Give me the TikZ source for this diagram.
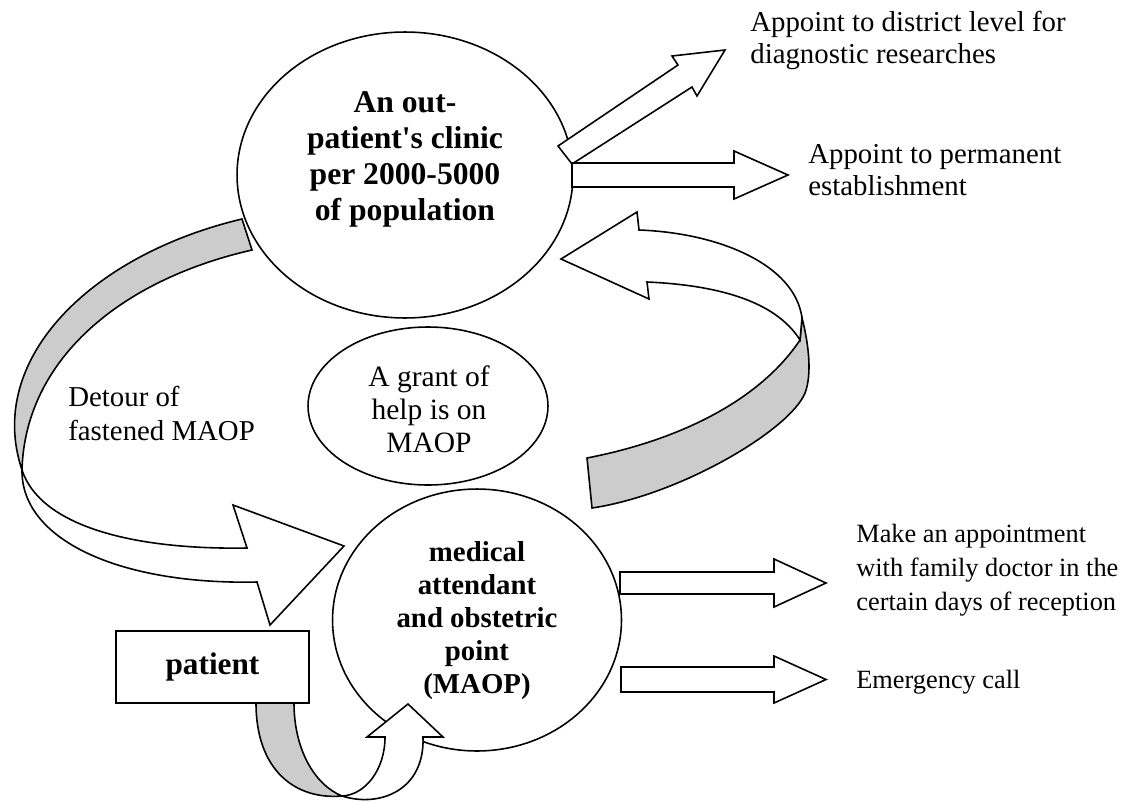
\documentclass[tikz,border=0pt]{standalone}
\usepackage{fontspec}
\setmainfont{Liberation Serif}
\usetikzlibrary{shapes.geometric}
\begin{document}
\begin{tikzpicture}[x=0.02cm,y=-0.02cm,
  outline/.style={draw=black,line width=0.9pt,line join=miter},
  band/.style={outline,fill=black!20},
  face/.style={outline,fill=white},
  oval/.style={ellipse,draw=black,line width=0.9pt,fill=white,inner sep=0pt},
  small/.style={inner sep=0pt,font=\fontsize{15}{19.1}\selectfont},
]
\useasboundingbox (0,0) rectangle (1138,801);

% main shapes
\node[oval,minimum width=6.72cm,minimum height=5.72cm] (clinic) at (405,175) {};
\node[oval,minimum width=4.80cm,minimum height=3.16cm] (grant) at (428,406) {};
\node[oval,minimum width=5.78cm,minimum height=5.24cm] (maop) at (477,620) {};
\node[draw=black,line width=0.9pt,fill=white,minimum width=3.86cm,minimum height=1.44cm,
      inner sep=0pt,font=\bfseries\fontsize{17.8}{20}\selectfont] (patient) at (212.5,667) {patient};

% texts inside the ovals (anchored at the baseline of the last line)
\node[inner sep=0pt,font=\bfseries\fontsize{18}{20.4}\selectfont,anchor=base,align=center] (clinictext) at (405,220)
  {An out-\\patient\textquotesingle s clinic\\per 2000-5000\\of population};
\node[inner sep=0pt,font=\fontsize{16.8}{18.7}\selectfont,anchor=base,align=center] (granttext) at (429,452)
  {A grant of\\help is on\\MAOP};
\node[inner sep=0pt,font=\bfseries\fontsize{16.4}{18.7}\selectfont,anchor=base,align=center] (maoptext) at (477,693)
  {medical\\attendant\\and obstetric\\point\\(MAOP)};

% left twisted arrow: clinic -> MAOP
\draw[band] (242,219) .. controls (90,255) and (-15,360) .. (22,470)
            .. controls (25,360) and (120,280) .. (252,250) -- cycle;
\draw[face] (22,470) .. controls (40,525) and (130,550) .. (247,548)
            -- (233,505) -- (344,546) -- (270,625) -- (257,582)
            .. controls (120,585) and (21,540) .. (22,470) -- cycle;
\node[inner sep=0pt,font=\fontsize{16.4}{19.3}\selectfont,anchor=base west,align=left] (detour) at (68,440)
  {Detour of\\fastened MAOP};

% right twisted arrow: MAOP side -> clinic
\draw[band] (802,318) .. controls (809,345) and (812,375) .. (805,393)
            .. controls (790,430) and (680,495) .. (592,508) -- (587,458)
            .. controls (680,440) and (760,400) .. (800,340) -- cycle;
\draw[face] (639,230) .. controls (720,233) and (795,265) .. (802,318) -- (800,340)
            .. controls (775,300) and (715,285) .. (647,282)
            -- (649,299) -- (561,259) -- (637,212) -- cycle;

% patient -> MAOP twisted arrow
\draw[band] (256,703) .. controls (256,770) and (295,800) .. (342,796)
            .. controls (315,785) and (294,750) .. (294,703) -- cycle;
\draw[face] (342,796) .. controls (380,808) and (425,790) .. (423,737)
            -- (443,737) -- (408,704) -- (367,737) -- (385,737)
            .. controls (385,770) and (365,795) .. (342,796) -- cycle;

% outgoing arrows of the clinic
\draw[face] (558,146) -- (678,65) -- (672,56) -- (725,50) -- (697,96) -- (692,87) -- (572,164) -- cycle;
\draw[face] (572,163) -- (734,163) -- (734,151) -- (788,175) -- (734,199) -- (734,187) -- (572,187) -- cycle;
\node[inner sep=0pt,font=\fontsize{16.4}{17.8}\selectfont,anchor=base west,align=left] (district) at (750,63)
  {Appoint to district level for\\diagnostic researches};
\node[inner sep=0pt,font=\fontsize{16.4}{18.1}\selectfont,anchor=base west,align=left] (permanent) at (808,195)
  {Appoint to permanent\\establishment};

% outgoing arrows of the MAOP
\draw[face] (620,572) -- (774,572) -- (774,559) -- (826,583) -- (774,607) -- (774,594) -- (620,594) -- cycle;
\draw[face] (621,667) -- (774,667) -- (774,656) -- (826,679.5) -- (774,703) -- (774,692) -- (621,692) -- cycle;
\node[small,anchor=base west,align=left] (family) at (856,610)
  {Make an appointment\\with family doctor in the\\certain days of reception};
\node[small,anchor=base west] (emergency) at (856,688) {Emergency call};
\end{tikzpicture}
\end{document}
